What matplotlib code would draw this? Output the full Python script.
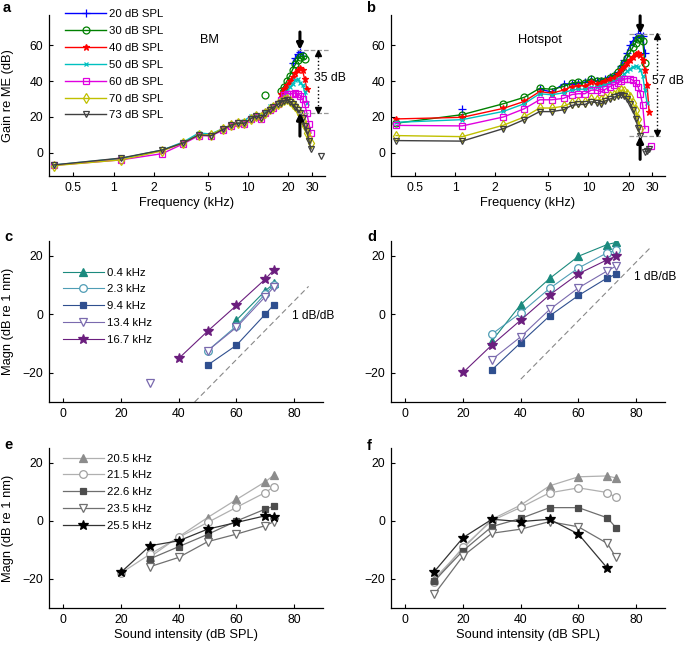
import numpy as np
import matplotlib
matplotlib.use("Agg")
import matplotlib.pyplot as plt
from matplotlib.ticker import NullLocator

plt.rcParams["font.family"] = ["Liberation Sans", "DejaVu Sans"]
plt.rcParams["font.size"] = 8

n = np.nan

# ---- panels a/b: gain vs frequency ----
freq_khz = [0.36, 1.13, 2.3, 3.3, 4.3, 5.3, 6.5, 7.5, 8.4, 9.4, 10.5, 11.5, 12.5, 13.4,
            14.5, 15.5, 16.7, 17.5, 18.5, 19.5, 20.5, 21.5, 22.6, 23.5, 24.5, 25.5,
            26.5, 27.5, 28.5, 29.5]
spl_labels = ["20 dB SPL", "30 dB SPL", "40 dB SPL", "50 dB SPL", "60 dB SPL",
              "70 dB SPL", "73 dB SPL"]

bm_20 = [n, n, n, n, n, n, n, n, n, n, n, n, n, n, n, n, n, n, n, n, n,
         50, 53, 55, 56.5, 54, n, n, n, n]
bm_30 = [n, n, n, n, n, n, n, n, n, n, n, n, n, 32.5, n, n, n,
         34.5, 37, 40, 43, 46.5, 49.5, 52, 53.5, 54, 52.5, n, n, n]
bm_40 = [n, n, n, n, n, n, n, n, n, n, n, n, n, n, n, n, n,
         33, 35.5, 38, 40, 42.5, 44.5, 46.5, 47.5, 46, 41, 35.5, n, n]
bm_50 = [-6.8, -3.2, 1.5, 6, 11, 10.5, 13.5, 15.5, 16.5, 18, 20.5, 20.5, 21, 23,
         26, 26, 28, 30, 32, 34, 36.5, 38.5, 40.5, 41, 39, 38, 34, 28, n, n]
bm_60 = [-7, -4, -0.5, 5, 9.5, 9.5, 12.5, 15, 16.5, 16, 19, 20, 19, 22,
         24, 25, 27, 29.5, 32.5, 33, 33, 33, 33.5, 33, 32, 30, 27, 22, 16, 11]
bm_70 = [-7.2, -4, 1, 5.5, 10, 10, 13.5, 15.5, 16.5, 16.5, 19, 20.5, 20, 22,
         24.5, 25.5, 27, 28.5, 29.5, 30, 29, 27.5, 26, 24, 21.5, 18, 15, 11, 8, 5.5]
bm_73 = [-6.8, -3, 1.5, 5.5, 10, 9.5, 13, 15.5, 16.5, 16.5, 19, 20.5, 19.5, 22,
         24, 25.5, 27, 28, 29, 29.5, 28.5, 27, 25.5, 24, 22, 19.5, 15, 12, 6.5, 2]
bm_73_far_f = [35.0]
bm_73_far = [-2.0]

hs_20 = [n, 24.5, n, n, 35.5, 34, 38.5, 38.5, 39, 39.5, 41, 40, 40, 41.5,
         42.5, 43.5, 45, 48.5, 52, 56, 60, 62.5, 64.5, 66.5, 66.5, 65.5, 55.5, n, n, n]
hs_30 = [16.5, 21.3, 27.4, 31, 36, 35.5, 37, 39, 39.5, 39, 41.5, 40, 40, 40,
         42, 43, 45, 47.5, 50, 53, 56, 59, 61.5, 63.5, 64, 62.5, 50, n, n, n]
hs_40 = [18.9, 19.8, 24.8, 28.7, 34.2, 33.3, 35, 37, 37.5, 37.5, 39.5, 38.5, 39, 40,
         41, 42, 44, 46, 48, 50, 52, 53.5, 55, 55.5, 54.5, 52, 46, 38, 23, n]
hs_50 = [17, 18.5, 23.1, 27.4, 33, 32.4, 33.5, 35, 35.5, 35.5, 36.5, 36.5, 37.5, 38,
         39, 40, 41, 42, 44, 45.5, 47, 48, 48.5, 48, 46.5, 43, 35, 28, n, n]
hs_60 = [15.3, 15, 20, 24.6, 29.6, 29.6, 30.4, 32.5, 33, 33, 35, 35, 34, 35.5,
         37, 38, 39, 40, 41, 41.5, 41.5, 40.5, 39, 37, 33, 26.5, 13.5, n, n, 4]
hs_70 = [9.6, 9, 15.4, 20, 25, 25, 26, 28, 28.5, 28.5, 30, 29.5, 29.5, 30.5,
         31.5, 32.5, 34, 35, 34.5, 33, 31, 28, 24, 19, 13, n, n, n, n, n]
hs_73 = [6.8, 6.5, 13.5, 18.5, 23, 23, 24, 26.5, 27, 27, 28.5, 28, 27.5, 29,
         30, 31, 32, 32.5, 31.5, 30, 27.5, 24, 19, 14, 9.5, n, 0.5, 1, 2, n]

# ---- panels c-f: magnitude vs level ----
level_db = [10, 20, 30, 40, 50, 60, 70, 73]
low_labels = ["0.4 kHz", "2.3 kHz", "9.4 kHz", "13.4 kHz", "16.7 kHz"]
high_labels = ["20.5 kHz", "21.5 kHz", "22.6 kHz", "23.5 kHz", "25.5 kHz"]

c_04 = [n, n, n, n, n, -2, 8, 10.5]
c_23 = [n, n, n, n, -12.5, -4, 7, 10]
c_94 = [n, n, n, n, -17.4, -10.6, 0, 3.3]
c_134 = [n, n, -23.4, n, -12.5, -4.5, 6, 9.3]
c_167 = [n, n, n, -15.1, -5.8, 3, 12, 15.2]

d_04 = [n, n, -9.1, 3.3, 12.2, 19.8, 23.8, 24.5]
d_23 = [n, n, -6.8, 0.5, 8.8, 15.8, 21, 21.8]
d_94 = [n, n, -19, -9.7, -0.6, 6.4, 12.4, 13.6]
d_134 = [n, n, -15.5, -7.7, 1.6, 9, 14.8, 16.4]
d_167 = [n, -19.9, -10.5, -2, 6.6, 13.8, 18.6, 19.8]

e_205 = [n, n, -12.5, -5.5, 1.1, 7.3, 13.4, 15.7]
e_215 = [n, -18, -11.5, -5.7, -0.6, 4.6, 9.7, 11.7]
e_226 = [n, n, -13.1, -8.9, -4.7, -0.1, 4, 5]
e_235 = [n, n, -15.8, -12.6, -7.2, -4.6, -1.7, -0.3]
e_255 = [n, -17.7, -8.6, -6.9, -2.9, -0.6, 1.7, 1.4]

f_205 = [-20, -9.5, 0.5, 5.4, 12, 15.1, 15.4, 14.7]
f_215 = [-21, -9, 0, 4.6, 9.6, 11.3, 9.7, 8]
f_226 = [-20.7, -10.3, -2, 0.8, 4.5, 4.5, 1, -2.4]
f_235 = [-25.3, -12.1, -4.3, -2.9, -0.3, -2.1, -7.8, -12.6]
f_255 = [-17.5, -5.8, 0.5, -0.3, 0.5, -4.6, -16.3, n]

# 1 dB/dB reference lines (level range, offset)
c_ref_x = [45.5, 85]
c_ref_offset = -75.5
d_ref_x = [40, 85]
d_ref_offset = -62.2

TICK_FS = 8.8
LABEL_FS = 9.3
LEGEND_FS = 8.2

# styles
spl_styles = [
    dict(color="#0000ff", marker="+", ms=5.5, mfc="none"),
    dict(color="#008000", marker="o", ms=5, mfc="none"),
    dict(color="#ff0000", marker="*", ms=5, mfc="#ff0000"),
    dict(color="#00c0c0", marker="x", ms=3.5, mfc="none"),
    dict(color="#e000e0", marker="s", ms=4.5, mfc="none"),
    dict(color="#c0c000", marker="d", ms=5, mfc="none"),
    dict(color="#404040", marker="v", ms=5, mfc="none"),
]
low_styles = [
    dict(color="#1b8a7e", marker="^", ms=5.5, mfc="#1b8a7e"),
    dict(color="#4f9db5", marker="o", ms=5.5, mfc="white"),
    dict(color="#2f4f8f", marker="s", ms=4.5, mfc="#2f4f8f"),
    dict(color="#7a6aae", marker="v", ms=6, mfc="white"),
    dict(color="#6b1e7e", marker="*", ms=7, mfc="#6b1e7e"),
]
high_styles = [
    dict(color="#b0b0b0", marker="^", ms=5.5, mfc="#8c8c8c", mec="#8c8c8c"),
    dict(color="#b0b0b0", marker="o", ms=5.5, mfc="white", mec="#a0a0a0"),
    dict(color="#6e6e6e", marker="s", ms=4.5, mfc="#4d4d4d", mec="#4d4d4d"),
    dict(color="#707070", marker="v", ms=6, mfc="white", mec="#707070"),
    dict(color="#333333", marker="*", ms=7, mfc="black", mec="black"),
]


def style_axes(ax):
    ax.spines["top"].set_visible(False)
    ax.spines["right"].set_visible(False)
    ax.spines["left"].set_linewidth(0.9)
    ax.spines["bottom"].set_linewidth(0.9)
    ax.tick_params(direction="in", length=3, width=0.8, pad=4, labelsize=TICK_FS)


def freq_axes(ax):
    style_axes(ax)
    ax.set_xscale("log")
    ax.set_xlim(0.33, 37.5)
    ax.set_ylim(-13, 77)
    ax.set_xticks([0.5, 1, 2, 5, 10, 20, 30])
    ax.set_xticklabels(["0.5", "1", "2", "5", "10", "20", "30"])
    ax.xaxis.set_minor_locator(NullLocator())
    ax.set_yticks([0, 20, 40, 60])
    ax.set_xlabel("Frequency (kHz)", fontsize=LABEL_FS, labelpad=2.5)


def level_axes(ax):
    style_axes(ax)
    ax.set_xlim(-5, 90)
    ax.set_ylim(-30, 25)
    ax.set_xticks([0, 20, 40, 60, 80])
    ax.set_yticks([-20, 0, 20])


def add_legend(ax, x, y):
    ax.legend(loc="upper left", bbox_to_anchor=(x, y), frameon=False,
              borderpad=0, borderaxespad=0, handlelength=3.6, handletextpad=0.3,
              labelspacing=0.6, fontsize=LEGEND_FS)


def range_marker(ax, x_arrow, x_dash0, x_dash1, top, bottom, x_dot, label, x_text):
    ax.plot([x_dash0, x_dash1], [top, top], "--", color="#999999", lw=0.9, clip_on=False)
    ax.plot([x_dash0, x_dash1], [bottom, bottom], "--", color="#999999", lw=0.9, clip_on=False)
    ax.plot([x_dot, x_dot], [top - 1.5, bottom + 1.5], ":", color="k", lw=1, clip_on=False)
    ax.plot([x_dot], [top - 1.5], marker="^", color="k", ms=4, clip_on=False)
    ax.plot([x_dot], [bottom + 1.5], marker="v", color="k", ms=4, clip_on=False)
    ax.text(x_text, (top + bottom) / 2 + 2, label, fontsize=8.8, ha="left", va="center",
            bbox=dict(facecolor="white", edgecolor="none", pad=0.5), zorder=5)
    ax.annotate("", xy=(x_arrow, top), xytext=(x_arrow, top + 10),
                arrowprops=dict(arrowstyle="-|>", color="k", lw=2.2, mutation_scale=9,
                                shrinkA=0, shrinkB=0), annotation_clip=False)
    ax.annotate("", xy=(x_arrow, bottom), xytext=(x_arrow, bottom - 13),
                arrowprops=dict(arrowstyle="-|>", color="k", lw=2.2, mutation_scale=9,
                                shrinkA=0, shrinkB=0), annotation_clip=False)


def main():
    W, H = 685, 645
    fig = plt.figure(figsize=(W / 100, H / 100), dpi=100)

    def box(x0, y0, x1, y1):
        return [x0 / W, 1 - y1 / H, (x1 - x0) / W, (y1 - y0) / H]

    ax_a = fig.add_axes(box(49, 15, 325, 176))
    ax_b = fig.add_axes(box(391, 15, 665, 176))
    ax_c = fig.add_axes(box(49, 241, 323, 402))
    ax_d = fig.add_axes(box(391, 241, 665, 402))
    ax_e = fig.add_axes(box(49, 448, 323, 608))
    ax_f = fig.add_axes(box(391, 448, 665, 608))

    # Panel a: BM
    freq_axes(ax_a)
    for vals, lab, st in zip([bm_20, bm_30, bm_40, bm_50, bm_60, bm_70, bm_73],
                             spl_labels, spl_styles):
        ax_a.plot(freq_khz, vals, lw=1, mew=0.9, label=lab, **st)
    ax_a.plot(bm_73_far_f, bm_73_far, ls="none", mew=0.9, **spl_styles[6], clip_on=False)
    ax_a.set_ylabel("Gain re ME (dB)", fontsize=LABEL_FS)
    ax_a.yaxis.set_label_coords(-0.125, 0.5)
    ax_a.text(0.583, 0.845, "BM", transform=ax_a.transAxes, ha="center", va="center",
              fontsize=9.2)
    range_marker(ax_a, 24.4, 23.2, 40, 57.5, 22.3, 33.3, "35 dB", 31)
    add_legend(ax_a, 0.058, 1.035)

    # Panel b: Hotspot
    freq_axes(ax_b)
    for vals, lab, st in zip([hs_20, hs_30, hs_40, hs_50, hs_60, hs_70, hs_73],
                             spl_labels, spl_styles):
        ax_b.plot(freq_khz, vals, lw=1, mew=0.9, label=lab, **st)
    ax_b.text(0.543, 0.845, "Hotspot", transform=ax_b.transAxes, ha="center",
              va="center", fontsize=9.2)
    range_marker(ax_b, 24.4, 20, 35, 66.5, 9.3, 32.5, "57 dB", 29.8)

    # Panel c / d: low frequencies
    for ax, series, ref_x, ref_off in [
        (ax_c, [c_04, c_23, c_94, c_134, c_167], c_ref_x, c_ref_offset),
        (ax_d, [d_04, d_23, d_94, d_134, d_167], d_ref_x, d_ref_offset),
    ]:
        level_axes(ax)
        ax.plot(ref_x, [x + ref_off for x in ref_x], ls=(0, (5, 3)), color="#888888", lw=0.8)
        for vals, lab, st in zip(series, low_labels, low_styles):
            ax.plot(level_db, vals, lw=0.8, mew=0.9, label=lab, **st)
    ax_c.text(79.4, -0.5, "1 dB/dB", fontsize=8.6, ha="left", va="center")
    ax_d.text(79.4, 12.8, "1 dB/dB", fontsize=8.6, ha="left", va="center")
    ax_c.set_ylabel("Magn (dB re 1 nm)", fontsize=LABEL_FS)
    ax_c.yaxis.set_label_coords(-0.128, 0.5)
    add_legend(ax_c, 0.051, 0.835)

    # Panel e / f: high frequencies
    for ax, series in [(ax_e, [e_205, e_215, e_226, e_235, e_255]),
                       (ax_f, [f_205, f_215, f_226, f_235, f_255])]:
        level_axes(ax)
        for vals, lab, st in zip(series, high_labels, high_styles):
            ax.plot(level_db, vals, lw=0.9, mew=0.9, label=lab, **st)
        ax.set_xlabel("Sound intensity (dB SPL)", fontsize=LABEL_FS, labelpad=2.5)
    ax_e.set_ylabel("Magn (dB re 1 nm)", fontsize=LABEL_FS)
    ax_e.yaxis.set_label_coords(-0.128, 0.5)
    add_legend(ax_e, 0.051, 0.965)

    # panel letters
    for letter, x, y in [("a", 3, 8), ("b", 366, 8), ("c", 4, 237), ("d", 367, 237),
                         ("e", 4, 445), ("f", 367, 446)]:
        fig.text(x / W, 1 - y / H, letter, fontsize=10.5, fontweight="bold",
                 ha="left", va="center")

    fig.savefig("out.png", dpi=100)


if __name__ == "__main__":
    main()
